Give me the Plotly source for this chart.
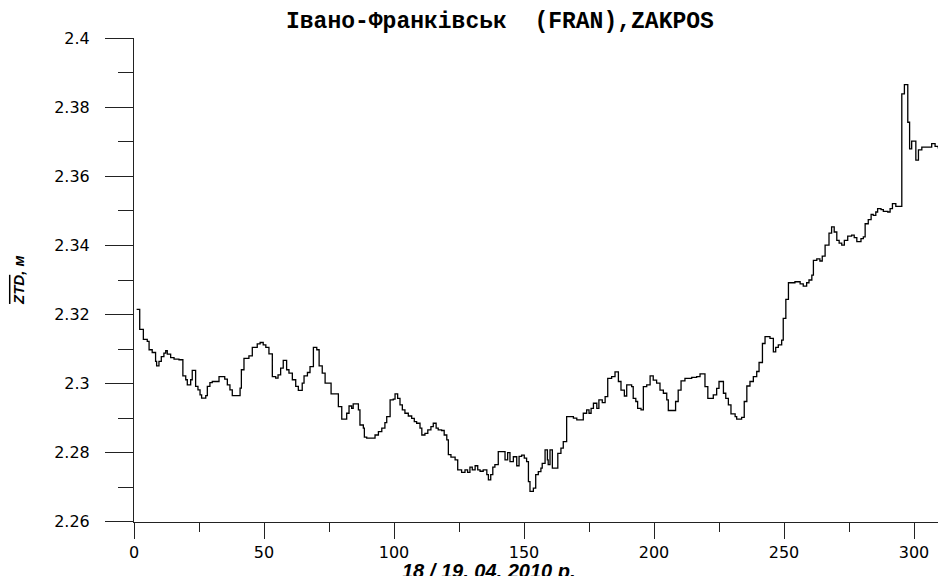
import plotly.graph_objects as go

# ---- data (x in chart units, ZTD in metres) ----
seg1_x = [1.0, 2.2, 3.6, 5.1, 5.8, 7.0, 8.3, 8.7, 9.6, 10.5,
          11.5, 12.2, 12.8, 14.1, 15.4, 17.3, 18.8, 19.9, 20.5, 21.8,
          22.4, 23.7, 24.6, 25.4, 26.0, 27.6, 28.2, 29.2, 30.1, 32.7,
          34.9, 35.9, 36.9, 37.8, 40.8, 41.3, 42.3, 44.2, 45.5, 47.4,
          48.5, 49.7, 50.7, 51.9, 53.2, 54.5, 55.4, 56.4, 57.4, 58.7,
          59.6, 60.9, 62.2, 63.2, 64.7, 65.4, 66.7, 67.7, 69.0, 70.3,
          71.2, 72.4, 73.5]
seg1_ztd = [2.3215, 2.3157, 2.3128, 2.3122, 2.3098, 2.3090, 2.3064, 2.3051, 2.3064, 2.3078,
            2.3088, 2.3095, 2.3085, 2.3075, 2.3071, 2.3069, 2.3022, 2.3011, 2.2996, 2.3011,
            2.3038, 2.2992, 2.2982, 2.2967, 2.2958, 2.2965, 2.2992, 2.3003, 2.3006, 2.3020,
            2.3013, 2.2996, 2.2982, 2.2965, 2.2987, 2.3040, 2.3073, 2.3080, 2.3105, 2.3115,
            2.3119, 2.3112, 2.3105, 2.3086, 2.3020, 2.3016, 2.3025, 2.3045, 2.3067, 2.3040,
            2.3030, 2.3011, 2.2992, 2.2980, 2.3001, 2.3022, 2.3032, 2.3049, 2.3105, 2.3098,
            2.3051, 2.3030, 2.3001]

seg2_x = [75.8, 78.6, 79.9, 81.8, 82.7, 83.7, 84.3, 86.3, 86.9, 88.2,
          88.6, 89.5, 92.7, 94.0, 95.3, 96.5, 97.2, 98.5, 99.7, 100.4,
          101.4, 102.3, 103.2, 104.2, 105.5, 106.8, 107.8, 108.7, 110.0, 110.7,
          111.9, 113.0, 114.2, 115.1, 116.2, 117.0, 118.3, 119.3, 120.3, 120.9,
          121.9, 123.5, 124.5, 126.0, 127.3, 128.3, 129.2, 130.1, 131.2, 132.2,
          133.1, 134.3, 135.7, 136.3, 137.2, 138.0, 138.8, 140.1, 142.7, 143.7,
          144.6, 145.9, 147.2]
seg2_ztd = [2.2970, 2.2933, 2.2897, 2.2914, 2.2935, 2.2928, 2.2941, 2.2924, 2.2880, 2.2871,
            2.2845, 2.2842, 2.2851, 2.2861, 2.2871, 2.2887, 2.2904, 2.2953, 2.2955, 2.2970,
            2.2957, 2.2938, 2.2924, 2.2914, 2.2906, 2.2899, 2.2890, 2.2885, 2.2871, 2.2851,
            2.2856, 2.2866, 2.2875, 2.2885, 2.2871, 2.2866, 2.2864, 2.2851, 2.2837, 2.2794,
            2.2787, 2.2779, 2.2750, 2.2743, 2.2750, 2.2743, 2.2758, 2.2750, 2.2762, 2.2750,
            2.2746, 2.2750, 2.2736, 2.2721, 2.2736, 2.2758, 2.2765, 2.2803, 2.2779, 2.2800,
            2.2774, 2.2788, 2.2762]

seg3_x = [148.1, 149.1, 150.1, 151.0, 151.7, 152.3, 153.6, 154.5, 155.5, 156.5,
          157.0, 158.1, 159.0, 159.3, 160.0, 160.9, 163.0, 164.2, 165.1, 166.4,
          169.0, 170.3, 172.8, 174.1, 175.0, 175.8, 176.7, 178.0, 178.8, 180.1,
          181.2, 182.2, 183.7, 185.0, 186.3, 187.3, 188.6, 189.5, 191.4, 192.0,
          193.0, 193.7, 195.0, 195.9, 197.2, 198.5, 199.7, 201.0, 202.3, 203.6,
          204.9, 205.5, 208.3, 209.3, 210.4, 211.9, 214.5, 216.4, 217.7, 219.6,
          220.7]
seg3_ztd = [2.2789, 2.2793, 2.2784, 2.2774, 2.2716, 2.2688, 2.2697, 2.2736, 2.2745, 2.2755,
            2.2769, 2.2808, 2.2779, 2.2765, 2.2808, 2.2755, 2.2798, 2.2813, 2.2832, 2.2904,
            2.2900, 2.2895, 2.2914, 2.2924, 2.2914, 2.2928, 2.2943, 2.2928, 2.2953, 2.2945,
            2.2962, 2.3015, 2.3020, 2.3034, 2.3006, 2.2981, 2.2964, 2.2996, 2.2991, 2.2957,
            2.2948, 2.2928, 2.2924, 2.2991, 2.2996, 2.3022, 2.3010, 2.3001, 2.2981, 2.2972,
            2.2953, 2.2922, 2.2948, 2.2981, 2.3008, 2.3015, 2.3018, 2.3020, 2.3028, 2.2991,
            2.2957]

seg4_x = [222.8, 224.1, 225.0, 226.7, 227.6, 228.6, 229.6, 231.2, 231.8, 233.7,
          234.7, 235.7, 236.9, 238.2, 239.5, 240.4, 241.7, 242.7, 244.6, 245.9,
          246.8, 247.8, 249.1, 249.7, 250.7, 251.7, 254.2, 256.2, 257.4, 258.7,
          259.6, 260.7, 261.3, 262.6, 263.8, 264.7, 265.8, 267.3, 268.3, 269.3,
          270.3, 271.2, 272.2, 273.2, 274.5, 276.0, 277.0, 278.0, 279.6, 280.5,
          281.2, 282.4, 283.5, 284.3, 285.3, 286.0, 287.3, 288.2, 289.9, 290.8,
          291.7, 293.0, 295.3, 296.3, 297.6, 298.3, 299.1, 300.7, 301.7, 303.0,
          306.8, 308.1, 309.3, 310.4, 311.3, 312.5]
seg4_ztd = [2.2967, 2.2986, 2.3006, 2.2972, 2.2957, 2.2938, 2.2912, 2.2904, 2.2897, 2.2902,
            2.2948, 2.2993, 2.3006, 2.3020, 2.3035, 2.3061, 2.3116, 2.3136, 2.3131, 2.3092,
            2.3105, 2.3112, 2.3126, 2.3189, 2.3244, 2.3292, 2.3295, 2.3289, 2.3282, 2.3292,
            2.3300, 2.3314, 2.3357, 2.3361, 2.3355, 2.3369, 2.3401, 2.3436, 2.3454, 2.3439,
            2.3415, 2.3407, 2.3401, 2.3415, 2.3427, 2.3430, 2.3423, 2.3411, 2.3420, 2.3425,
            2.3463, 2.3475, 2.3490, 2.3487, 2.3497, 2.3507, 2.3504, 2.3499, 2.3497, 2.3507,
            2.3521, 2.3513, 2.3839, 2.3866, 2.3757, 2.3680, 2.3702, 2.3647, 2.3677, 2.3685,
            2.3695, 2.3687, 2.3683, 2.3641, 2.3625, 2.3625]

title_text = "Івано-Франківськ\u00a0 (FRAN),ZAKPOS"
x_title = "18 / 19. 04. 2010 р."
y_title = "ZTD"
y_unit = ", м"

for a, b in [(seg1_x, seg1_ztd), (seg2_x, seg2_ztd), (seg3_x, seg3_ztd), (seg4_x, seg4_ztd)]:
    assert len(a) == len(b)

xs = seg1_x + seg2_x + seg3_x + seg4_x
ys = seg1_ztd + seg2_ztd + seg3_ztd + seg4_ztd

fig = go.Figure()
fig.add_trace(go.Scatter(x=xs, y=ys, mode="lines", line=dict(shape="hv", color="black", width=1.3),
                         showlegend=False, hoverinfo="skip"))

tickfont = dict(family="DejaVu Sans", size=16, color="black")
# the page body has an 8px margin, so the figure is laid out 8px up/left
fig.update_layout(
    width=946, height=576,
    margin=dict(l=126, r=8, t=30, b=62),
    paper_bgcolor="white", plot_bgcolor="white",
    title=dict(text="<b>" + title_text + "</b>", x=0.520, xref="container", xanchor="center",
               y=0.979, yref="container", yanchor="middle",
               font=dict(family="Liberation Mono", size=23, color="black")),
    xaxis=dict(range=[0, 312.3], tick0=0, dtick=50, showgrid=False, zeroline=False,
               showline=True, linecolor="#222", linewidth=1,
               ticks="outside", ticklen=16, tickwidth=1, tickcolor="#222",
               minor=dict(dtick=25, ticklen=9, ticks="outside", tickcolor="#222", tickwidth=1),
               tickfont=tickfont, ticklabelstandoff=0),
    yaxis=dict(range=[2.2599, 2.4001], tick0=2.26, dtick=0.02, showgrid=False, zeroline=False,
               showline=True, linecolor="#222", linewidth=1,
               ticks="outside", ticklen=28, tickwidth=1, tickcolor="#222",
               minor=dict(dtick=0.01, ticklen=15, ticks="outside", tickcolor="#222", tickwidth=1),
               tickfont=tickfont, ticklabelstandoff=12),
)

fig.add_annotation(text="<b><i>" + x_title + "</i></b>", xref="paper", yref="paper",
                   x=0.437, y=-0.101, xanchor="center", yanchor="middle", showarrow=False,
                   font=dict(family="Liberation Sans", size=20, color="black"))
fig.add_annotation(text="<b><i><span style='text-decoration:overline'>" + y_title + "</span>" + y_unit + "</i></b>",
                   xref="paper", yref="paper", x=-0.1429, y=0.5, xanchor="center", yanchor="middle",
                   textangle=-90, showarrow=False,
                   font=dict(family="Liberation Sans", size=15, color="black"))

fig.write_html("out.html")
